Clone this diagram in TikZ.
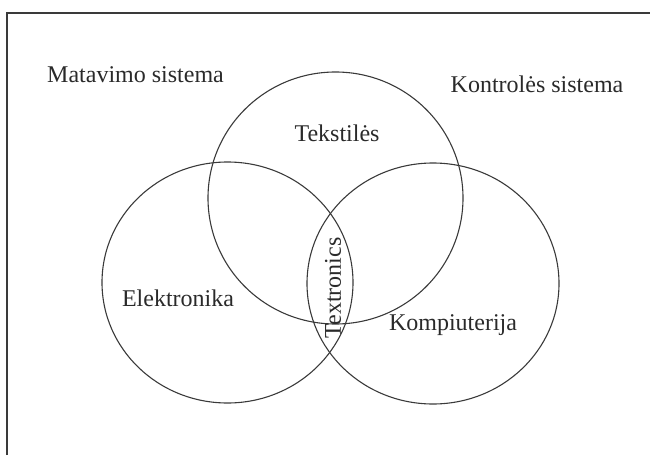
\documentclass[tikz,border=0pt]{standalone}
\usepackage{fontspec}
\setmainfont{Liberation Serif}
\definecolor{ink}{HTML}{2A2A2A}
\definecolor{wire}{HTML}{3A3A3A}
\begin{document}
\begin{tikzpicture}[x=1pt,y=-1pt,
  ring/.style={draw=wire,line width=1.1pt},
  lbl/.style={text=ink,font=\fontsize{24}{28}\selectfont,inner sep=0pt}]
\useasboundingbox (0,0) rectangle (650,455);
% partial frame: left and top edges
\draw[wire,line width=1.1pt] (7,455) -- (7,13) -- (650,13);
% the three sets
\draw[ring] (335.5,198) ellipse [x radius=127.5, y radius=126];
\draw[ring] (227.5,282.5) ellipse [x radius=125.5, y radius=120.5];
\draw[ring] (433,283.5) ellipse [x radius=126, y radius=120.5];
% labels
\node[lbl] (mat) at (135.5,75) {Matavimo sistema};
\node[lbl] (kon) at (537,84) {Kontrolės sistema};
\node[lbl] (tek) at (337,133) {Tekstilės};
\node[lbl] (ele) at (178,298) {Elektronika};
\node[lbl] (kom) at (453,325) {Kompiuterija};
\node[lbl,rotate=90] (tex) at (333,288) {Textronics};
\end{tikzpicture}
\end{document}
